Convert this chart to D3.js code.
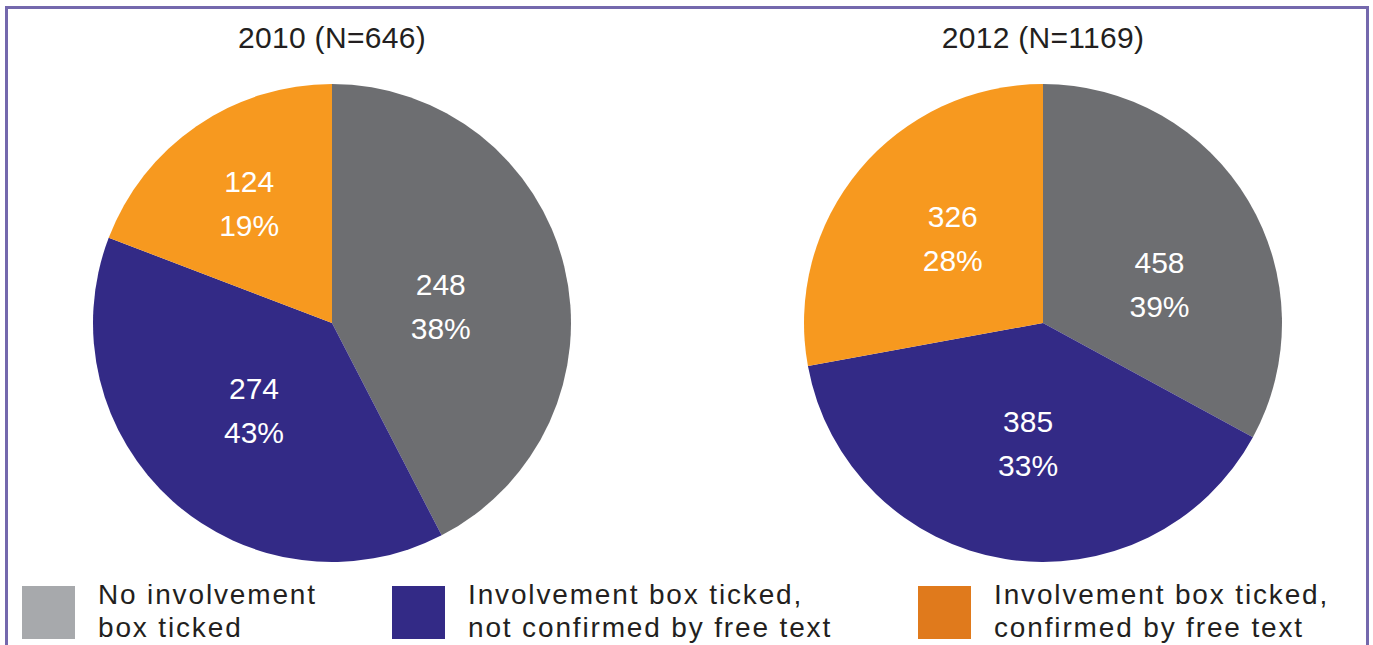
<!DOCTYPE html>
<html>
<head>
<meta charset="utf-8">
<script src="https://cdn.jsdelivr.net/npm/d3@7/dist/d3.min.js"></script>
<style>
  html, body { margin: 0; padding: 0; background: #ffffff; }
  svg { display: block; }
  text { font-family: "Liberation Sans", Arial, Helvetica, sans-serif; }
</style>
</head>
<body>
<svg id="chart" width="1373" height="645"></svg>
<script>
// ---------- data ----------
const categories = [
  "No involvement box ticked",
  "Involvement box ticked, not confirmed by free text",
  "Involvement box ticked, confirmed by free text"
];
const legendLines = [
  ["No involvement", "box ticked"],
  ["Involvement box ticked,", "not confirmed by free text"],
  ["Involvement box ticked,", "confirmed by free text"]
];
const titles = ["2010 (N=646)", "2012 (N=1169)"];

const counts2010 = [248, 274, 124];
const percent2010 = ["38%", "43%", "19%"];
const counts2012 = [458, 385, 326];
const percent2012 = ["39%", "33%", "28%"];

// Wedge sizes as drawn in the original figure (the grey and purple wedges
// are drawn with each other's sizes relative to their printed labels).
const wedge2010 = [274, 248, 124];
const wedge2012 = [385, 458, 326];

// ---------- style / layout ----------
const sliceColors = ["#6d6e71", "#332a86", "#f7991f"];
const legendColors = ["#a7a9ac", "#332a86", "#e07a1c"];
const textColor = "#231f20";
const frameColor = "#7468ad";

const W = 1373, H = 645;
const radius = 239;
const pieCenters = [[332, 323], [1043, 323]];
// label placement per pie: [angle offset (deg), label radius]
const labelPlacement = [
  [[5, 110], [0, 117], [0, 146]],
  [[12, 123], [-2, 121], [3.5, 124]]
];

const svg = d3.select("#chart");

// frame
svg.append("path")
  .attr("d", `M6.5,${H + 5} V7.5 H1367.5 V${H + 5}`)
  .attr("fill", "none")
  .attr("stroke", frameColor)
  .attr("stroke-width", 3);

const pieGen = d3.pie().sort(null).value(d => d.wedge);
const arcGen = d3.arc().innerRadius(0).outerRadius(radius);

const pies = [
  { title: titles[0], counts: counts2010, pct: percent2010, wedge: wedge2010 },
  { title: titles[1], counts: counts2012, pct: percent2012, wedge: wedge2012 }
];

pies.forEach((p, pi) => {
  const [cx, cy] = pieCenters[pi];
  const g = svg.append("g").attr("transform", `translate(${cx},${cy})`);
  const data = categories.map((c, i) => ({
    cat: c, i, wedge: p.wedge[i], count: p.counts[i], pct: p.pct[i]
  }));
  const arcs = pieGen(data);

  g.selectAll("path.slice")
    .data(arcs)
    .join("path")
    .attr("class", "slice")
    .attr("d", arcGen)
    .attr("fill", d => sliceColors[d.data.i]);

  // title
  svg.append("text")
    .attr("x", cx)
    .attr("y", 48)
    .attr("text-anchor", "middle")
    .attr("font-size", 30)
    .attr("letter-spacing", 0.3)
    .attr("fill", textColor)
    .text(p.title);

  // labels
  arcs.forEach(a => {
    const [dAng, r] = labelPlacement[pi][a.data.i];
    const ang = (a.startAngle + a.endAngle) / 2 + dAng * Math.PI / 180;
    const x = r * Math.sin(ang);
    const y = -r * Math.cos(ang);
    const t = g.append("text")
      .attr("text-anchor", "middle")
      .attr("font-size", 30)
      .attr("fill", "#ffffff");
    t.append("tspan").attr("x", x).attr("y", y - 11).text(a.data.count);
    t.append("tspan").attr("x", x).attr("y", y + 33).text(a.data.pct);
  });
});

// legend
const legendX = [22, 392, 918];
const legend = svg.append("g");
categories.forEach((c, i) => {
  const lg = legend.append("g").attr("transform", `translate(${legendX[i]},586)`);
  lg.append("rect")
    .attr("width", 53).attr("height", 53)
    .attr("fill", legendColors[i]);
  const t = lg.append("text")
    .attr("font-size", 28)
    .attr("letter-spacing", 1.85)
    .attr("fill", textColor);
  legendLines[i].forEach((line, j) => {
    t.append("tspan").attr("x", 76).attr("y", 18 + j * 33).text(line);
  });
});
</script>
</body>
</html>
